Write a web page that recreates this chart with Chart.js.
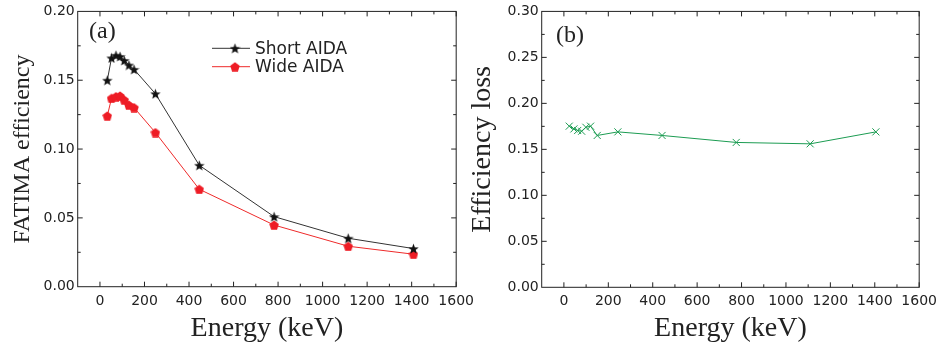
<!DOCTYPE html>
<html>
<head>
<meta charset="utf-8">
<script src="https://cdn.jsdelivr.net/npm/chart.js@4.4.0/dist/chart.umd.min.js"></script>
<style>
  html, body { margin: 0; padding: 0; background: #fff; }
  #wrap { position: relative; width: 943px; height: 346px; overflow: hidden; }
  #chartA { position: absolute; left: 0; top: 0; }
  #chartB { position: absolute; left: 464px; top: 0; }
</style>
</head>
<body>
<div id="wrap">
  <canvas id="chartA" width="480" height="346"></canvas>
  <canvas id="chartB" width="479" height="346"></canvas>
</div>
<script>
// --- DATA ---
// panel (a): FATIMA efficiency vs energy
const energyA   = [33, 52, 72, 90, 109, 130, 153, 249, 446, 782, 1115, 1408];
const shortAida = [0.150, 0.1662, 0.1681, 0.1673, 0.1644, 0.161, 0.1579, 0.1402, 0.0882, 0.0509, 0.0352, 0.0277];
const wideAida  = [0.1241, 0.1369, 0.1381, 0.1386, 0.1357, 0.132, 0.1301, 0.112, 0.0708, 0.0448, 0.0294, 0.0236];
// panel (b): efficiency loss vs energy
const energyB   = [24, 45, 62, 80, 99, 120, 150, 243, 442, 776, 1109, 1405];
const effLoss   = [0.1752, 0.1722, 0.1705, 0.1697, 0.174, 0.1752, 0.1651, 0.169, 0.1651, 0.1575, 0.156, 0.169];
// tick labels
const xTicks  = [0, 200, 400, 600, 800, 1000, 1200, 1400, 1600];
const yTicksA = [0, 0.05, 0.10, 0.15, 0.20];
const yTicksB = [0, 0.05, 0.10, 0.15, 0.20, 0.25, 0.30];

const INK = '#222';
const SANS = 'DejaVu Sans';
const SERIF = 'Liberation Serif';

// filled star / pentagon markers (Chart.js 'star' is only an asterisk)
function makeMarker(size, color, points, inner) {
    const c = document.createElement('canvas');
    c.width = c.height = size;
    const g = c.getContext('2d');
    const r = size / 2;
    const n = inner ? points * 2 : points;
    g.beginPath();
    for (let i = 0; i < n; i++) {
        const ang = -Math.PI / 2 + i * 2 * Math.PI / n;
        const rr = (inner && i % 2) ? r * inner : r;
        g.lineTo(r + rr * Math.cos(ang), r + 0.6 + rr * Math.sin(ang));
    }
    g.closePath();
    g.fillStyle = color;
    g.fill();
    return c;
}
const starIcon = makeMarker(11, '#111', 5, 0.42);
const pentIcon = makeMarker(10, '#ee1c25', 5, 0);

// frame + inward ticks on all four sides, panel letter, legend
const framePlugin = {
    id: 'frameTicks',
    afterDraw(chart, args, opts) {
        const { ctx, chartArea: a, scales: { x, y } } = chart;
        ctx.save();
        ctx.strokeStyle = INK;
        ctx.lineWidth = 1;
        ctx.strokeRect(a.left, a.top, a.right - a.left, a.bottom - a.top);
        ctx.beginPath();
        for (let v = 0; v <= 1600; v += 100) {
            const px = x.getPixelForValue(v);
            const len = v % 200 === 0 ? 5 : 3;
            ctx.moveTo(px, a.bottom); ctx.lineTo(px, a.bottom - len);
            ctx.moveTo(px, a.top); ctx.lineTo(px, a.top + len);
        }
        for (let k = 1; k * 0.025 < opts.yMax - 1e-9; k++) {
            const py = y.getPixelForValue(k * 0.025);
            const len = k % 2 === 0 ? 5 : 3;
            ctx.moveTo(a.left, py); ctx.lineTo(a.left + len, py);
            ctx.moveTo(a.right, py); ctx.lineTo(a.right - len, py);
        }
        ctx.stroke();

        // panel letter
        ctx.fillStyle = INK;
        ctx.font = '24px "' + SERIF + '"';
        ctx.textBaseline = 'middle';
        ctx.textAlign = 'left';
        ctx.fillText(opts.letter, opts.letterX, opts.letterY);

        // legend (panel a only)
        if (opts.legend) {
            ctx.font = '17px "' + SANS + '"';
            chart.data.datasets.forEach((ds, i) => {
                const ly = 48.3 + i * 18.4;
                ctx.strokeStyle = ds.borderColor;
                ctx.beginPath();
                ctx.moveTo(212, ly); ctx.lineTo(250, ly);
                ctx.stroke();
                const img = ds.pointStyle;
                ctx.drawImage(img, 235 - img.width / 2, ly - img.height / 2);
                ctx.fillStyle = INK;
                ctx.fillText(ds.label, 255, ly + 1);
            });
        }
        ctx.restore();
    }
};

function axes(yTicks, yMax, yTitle, yTitleSize, yTitlePad, xHeight) {
    return {
        x: {
            type: 'linear', min: -100, max: 1600,
            afterBuildTicks: s => { s.ticks = xTicks.map(v => ({ value: v })); },
            afterFit: s => { s.height = xHeight; },
            grid: { display: false, drawTicks: false },
            border: { display: false },
            ticks: { autoSkip: false, maxRotation: 0, padding: 6, color: INK,
                     font: { family: SANS, size: 14 },
                     callback: v => String(v) },
            title: { display: true, text: 'Energy (keV)', color: INK,
                     font: { family: SERIF, size: 28 }, padding: { top: 0, bottom: 1 } }
        },
        y: {
            type: 'linear', min: 0, max: yMax,
            afterBuildTicks: s => { s.ticks = yTicks.map(v => ({ value: v })); },
            afterFit: s => { s.width = 77.7; },
            grid: { display: false, drawTicks: false },
            border: { display: false },
            ticks: { padding: 3, color: INK, font: { family: SANS, size: 14 },
                     callback: v => v.toFixed(2) },
            title: { display: true, text: yTitle, color: INK,
                     font: { family: SERIF, size: yTitleSize }, padding: { top: yTitlePad, bottom: 0 } }
        }
    };
}

const common = {
    responsive: false,
    animation: false,
    events: [],
    plugins: { legend: { display: false }, tooltip: { enabled: false } }
};

// --- PANEL (a) ---
new Chart(document.getElementById('chartA'), {
    type: 'line',
    data: {
        datasets: [{
            label: 'Short AIDA',
            data: energyA.map((e, i) => ({ x: e, y: shortAida[i] })),
            borderColor: '#333', borderWidth: 1,
            pointStyle: starIcon, pointRadius: 5, tension: 0
        }, {
            label: 'Wide AIDA',
            data: energyA.map((e, i) => ({ x: e, y: wideAida[i] })),
            borderColor: '#ee2a2a', borderWidth: 1,
            pointStyle: pentIcon, pointRadius: 5, tension: 0
        }]
    },
    options: {
        ...common,
        layout: { padding: { left: 0, right: 23.3, top: 10, bottom: 0 } },
        scales: axes(yTicksA, 0.20, 'FATIMA efficiency', 24, 8, 59.3),
        plugins: { ...common.plugins,
            frameTicks: { yMax: 0.20, letter: '(a)', letterX: 89, letterY: 32, legend: true } }
    },
    plugins: [framePlugin]
});

// --- PANEL (b) ---
new Chart(document.getElementById('chartB'), {
    type: 'line',
    data: {
        datasets: [{
            label: 'Efficiency loss',
            data: energyB.map((e, i) => ({ x: e, y: effLoss[i] })),
            borderColor: '#1c9c52', borderWidth: 1,
            pointStyle: 'crossRot', pointRadius: 5,
            pointBorderColor: '#1c9c52', pointBorderWidth: 1, tension: 0
        }]
    },
    options: {
        ...common,
        layout: { padding: { left: 0, right: 23.5, top: 9.3, bottom: 0 } },
        scales: axes(yTicksB, 0.30, 'Efficiency loss', 28, 2, 58.7),
        plugins: { ...common.plugins,
            frameTicks: { yMax: 0.30, letter: '(b)', letterX: 92, letterY: 36, legend: false } }
    },
    plugins: [framePlugin]
});
</script>
</body>
</html>
